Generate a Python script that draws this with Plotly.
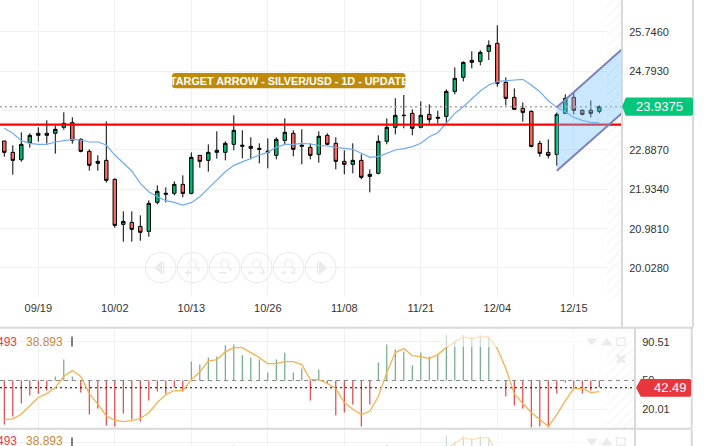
import plotly.graph_objects as go

W, H = 711, 446

date_ticks = [4, 13, 22, 31, 40, 49, 58, 67]
date_labels = ["09/19", "10/02", "10/13", "10/26", "11/08", "11/21", "12/04", "12/15"]
price_ticks = [25.746, 24.793, 23.84, 22.887, 21.934, 20.981, 20.028]
price_labels = ["25.7460", "24.7930", "", "22.8870", "21.9340", "20.9810", "20.0280"]
last_price = 23.9375
support_level = 23.5
rsi_last = 42.49
rsi_mid = 50

candle_x = list(range(71))
opens = [23.105, 22.83, 22.652, 23.064, 23.291, 23.291, 23.291, 23.436, 23.549, 23.145,
         22.854, 22.563, 22.636, 22.176, 21.085, 21.133, 21.036, 20.915, 21.618, 21.812,
         21.836, 22.054, 21.836, 22.757, 22.636, 22.83, 22.83, 23.024, 22.975, 22.975,
         22.927, 22.83, 22.757, 23.121, 23.291, 22.975, 22.951, 22.782, 23.242, 23.048,
         22.612, 22.539, 22.636, 22.248, 22.321, 23.097, 23.436, 23.719, 23.775, 23.436,
         23.75, 23.653, 23.701, 24.307, 24.647, 25.059, 25.035, 25.277, 25.471, 24.526,
         24.162, 23.895, 23.823, 23.047, 22.829, 22.78, 23.774, 24.162, 23.847, 23.847, 23.823]
highs = [23.105, 23.0, 23.315, 23.291, 23.436, 23.606, 23.476, 23.8, 23.678, 23.169,
         22.903, 22.757, 23.581, 22.2, 21.4, 21.4, 21.303, 21.667, 22.03, 21.982,
         22.127, 22.273, 22.83, 22.765, 23.024, 23.339, 23.097, 23.727, 23.363, 23.194,
         23.048, 23.169, 23.194, 23.654, 23.363, 23.388, 23.048, 23.339, 23.291, 23.194,
         22.879, 23.048, 22.782, 22.418, 23.242, 23.654, 24.139, 24.22, 23.872, 24.066,
         23.992, 23.839, 24.356, 24.889, 25.035, 25.277, 25.301, 25.544, 25.907, 24.647,
         24.38, 24.041, 23.847, 23.112, 23.144, 23.798, 24.235, 24.291, 23.871, 24.089, 23.968]
lows = [22.725, 22.289, 22.604, 22.943, 23.089, 23.04, 22.798, 23.379, 23.04, 22.83,
        22.386, 22.386, 22.095, 21.004, 20.665, 20.665, 20.689, 20.786, 21.57, 21.618,
        21.788, 21.739, 21.812, 22.458, 22.361, 22.677, 22.636, 22.879, 22.685, 22.66,
        22.563, 22.442, 22.66, 23.024, 22.733, 22.539, 22.66, 22.58, 23.0, 22.418,
        22.297, 22.321, 22.176, 21.86, 22.297, 23.024, 23.266, 23.412, 23.242, 23.412,
        23.532, 23.532, 23.532, 24.235, 24.55, 24.865, 24.938, 25.067, 24.421, 23.968,
        23.871, 23.572, 22.95, 22.724, 22.683, 22.506, 23.774, 23.75, 23.726, 23.677, 23.774]
closes = [22.83, 22.636, 23.024, 23.242, 23.242, 23.242, 23.388, 23.533, 23.121, 22.854,
          22.515, 22.612, 22.151, 21.061, 21.157, 20.964, 20.891, 21.594, 21.885, 21.836,
          22.054, 21.836, 22.709, 22.612, 22.83, 22.879, 23.048, 23.363, 23.0, 22.927,
          22.903, 22.854, 23.145, 23.315, 22.903, 23.0, 22.757, 23.218, 23.024, 22.612,
          22.539, 22.636, 22.224, 22.297, 23.097, 23.436, 23.727, 23.727, 23.412, 23.727,
          23.621, 23.677, 24.307, 24.623, 25.01, 25.01, 25.253, 25.423, 24.501, 24.138,
          23.871, 23.798, 22.974, 22.805, 22.756, 23.75, 24.138, 23.847, 23.75, 23.774, 23.9375]
ma_line = [23.412, 23.291, 23.113, 23.048, 23.024, 23.024, 23.081, 23.121, 23.145, 23.129,
           23.081, 23.081, 23.008, 22.765, 22.563, 22.378, 22.079, 21.877, 21.755, 21.658,
           21.618, 21.553, 21.61, 21.755, 21.957, 22.159, 22.361, 22.515, 22.604, 22.685,
           22.765, 22.83, 22.951, 23.024, 23.024, 23.048, 23.032, 22.992, 22.984, 22.951,
           22.927, 22.903, 22.806, 22.709, 22.725, 22.806, 22.887, 22.919, 22.967, 23.048,
           23.209, 23.306, 23.532, 23.774, 23.936, 24.138, 24.316, 24.461, 24.542, 24.566,
           24.582, 24.598, 24.461, 24.299, 24.081, 23.92, 23.815, 23.677, 23.605, 23.556, 23.548]

rsi_bars = [4.1, 12.4, 26.0, 34.4, 36.1, 39.6, 54.2, 71.9, 54.2, 37.5,
            14.5, 20.8, 3.1, 2.0, 15.6, 9.3, 7.2, 29.1, 38.5, 36.4,
            42.7, 38.5, 69.8, 66.7, 74.0, 75.0, 86.9, 87.6, 76.4, 74.0,
            71.9, 58.3, 71.9, 79.2, 58.3, 62.5, 29.1, 61.5, 46.9, 13.5,
            16.6, 25.0, 2.0, 25.0, 68.8, 87.6, 82.3, 80.2, 65.6, 79.2,
            75.0, 77.1, 98.0, 91.7, 97.3, 95.5, 97.3, 95.5, 50.0, 33.3,
            23.9, 20.8, 1.0, 2.0, 1.0, 36.4, 47.9, 41.7, 36.4, 39.6, 42.7]
rsi_line = [9.3, 10.0, 14.9, 23.2, 32.3, 36.4, 42.7, 54.5, 60.4, 54.2,
            36.4, 25.7, 13.1, 8.6, 7.2, 8.3, 10.4, 16.3, 27.1, 35.4,
            39.6, 39.6, 51.0, 59.0, 70.2, 71.9, 79.9, 84.4, 84.4, 79.2,
            74.0, 67.7, 67.7, 69.8, 69.8, 66.7, 51.0, 51.0, 46.9, 41.7,
            27.1, 20.1, 14.5, 18.0, 33.3, 58.3, 79.2, 83.4, 76.1, 75.0,
            72.9, 77.1, 84.4, 90.3, 95.5, 93.8, 95.5, 95.5, 83.4, 62.5,
            36.4, 26.0, 16.6, 9.3, 2.0, 14.5, 29.1, 41.7, 41.7, 37.5, 38.5]

channel_x = [65, 72.67]
channel_upper = [23.921, 25.327]
channel_lower = [22.385, 23.776]

X_MAIN = [-0.506, 72.67]
X_RSI = [-0.506, 74.2]
Y_MAIN = [19.325, 26.521]
Y_RSI = [0.5, 103.8]
Y_RSI2 = [87.1, 103.8]

FONT = "Liberation Sans, Arial, sans-serif"
GRID = "#f1f1f1"
FRAME = "#d9d9d9"
ICON = "#ebebeb"


def px(x):
    return x / W


def py(y):
    return 1 - y / H


fig = go.Figure()

# hatched strip at the right end of the panels
fig.add_trace(go.Bar(x=[71.8], y=[Y_MAIN[1] - Y_MAIN[0]], base=[Y_MAIN[0]], width=[1.76],
                     marker=dict(color="white", line_width=0,
                                 pattern=dict(shape="/", fgcolor="#efefef", bgcolor="white", size=7, solidity=0.25)),
                     xaxis="x", yaxis="y", hoverinfo="skip"))
for ya, yr in (("y2", Y_RSI), ("y3", Y_RSI2)):
    xa = "x2" if ya == "y2" else "x3"
    fig.add_trace(go.Bar(x=[72.55], y=[yr[1] - yr[0]], base=[yr[0]], width=[3.29],
                         marker=dict(color="white", line_width=0,
                                     pattern=dict(shape="/", fgcolor="#efefef", bgcolor="white", size=7, solidity=0.25)),
                         xaxis=xa, yaxis=ya, hoverinfo="skip"))

fig.add_trace(go.Candlestick(
    x=candle_x, open=opens, high=highs, low=lows, close=closes, xaxis="x", yaxis="y",
    whiskerwidth=0,
    increasing=dict(fillcolor="#02b871", line=dict(color="#000000", width=1)),
    decreasing=dict(fillcolor="#fa6a61", line=dict(color="#000000", width=1)),
))
fig.add_trace(go.Scatter(x=candle_x, y=ma_line, mode="lines", xaxis="x", yaxis="y",
                         line=dict(color="#6fabf6", width=1.2)))
fig.add_trace(go.Scatter(x=X_MAIN, y=[last_price, last_price], mode="lines", xaxis="x", yaxis="y",
                         line=dict(color="#a8a8a8", width=1.5, dash="2px,3px")))
fig.add_trace(go.Scatter(x=X_MAIN, y=[support_level, support_level], mode="lines", xaxis="x", yaxis="y",
                         line=dict(color="#ff0000", width=2.2)))
fig.add_trace(go.Scatter(x=channel_x + channel_x[::-1], y=channel_upper + channel_lower[::-1],
                         mode="none", fill="toself", fillcolor="rgba(120,195,250,0.4)",
                         xaxis="x", yaxis="y"))
for edge in (channel_upper, channel_lower):
    fig.add_trace(go.Scatter(x=channel_x, y=edge, mode="lines", xaxis="x", yaxis="y",
                             line=dict(color="#7c80ba", width=2)))

bar_colors = ["rgba(93,158,118,0.99)" if v >= rsi_mid else "rgba(232,38,45,0.99)" for v in rsi_bars]
for xa, ya in (("x2", "y2"), ("x3", "y3")):
    fig.add_trace(go.Bar(x=candle_x, y=[v - rsi_mid for v in rsi_bars], base=rsi_mid, width=0.125,
                         marker=dict(color=bar_colors, line_width=0), xaxis=xa, yaxis=ya))
    fig.add_trace(go.Scatter(x=X_RSI, y=[rsi_mid, rsi_mid], mode="lines", xaxis=xa, yaxis=ya,
                             line=dict(color="#888888", width=1, dash="4px,4px")))
    fig.add_trace(go.Scatter(x=X_RSI, y=[rsi_last, rsi_last], mode="lines", xaxis=xa, yaxis=ya,
                             line=dict(color="#000000", width=1, dash="2px,3px")))
    fig.add_trace(go.Scatter(x=candle_x, y=rsi_line, mode="lines", xaxis=xa, yaxis=ya,
                             line=dict(color="#f6b24e", width=1.3)))

shapes = []


def line(x0, y0, x1, y1, color=FRAME, width=2):
    shapes.append(dict(type="line", xref="paper", yref="paper", layer="above",
                       x0=px(x0), y0=py(y0), x1=px(x1), y1=py(y1),
                       line=dict(color=color, width=width)))


def poly(points, fill=ICON, close=True):
    d = "M " + " L ".join(f"{px(a):.5f},{py(b):.5f}" for a, b in points) + (" Z" if close else "")
    shapes.append(dict(type="path", xref="paper", yref="paper", layer="above", path=d,
                       fillcolor=fill if close else None, line=dict(color=fill, width=1 if close else 1.3)))


def circle(cx, cy, r, color=ICON, width=1.1):
    shapes.append(dict(type="circle", xref="paper", yref="paper", layer="above",
                       x0=px(cx - r), x1=px(cx + r), y0=py(cy + r), y1=py(cy - r),
                       line=dict(color=color, width=width)))


# white veil over the top of the indicator panels, where the controls sit
for y0, y1 in ((330, 347), (430, 446)):
    shapes.append(dict(type="rect", xref="paper", yref="paper", layer="above",
                       x0=px(445), x1=px(634), y0=py(y1), y1=py(y0),
                       fillcolor="rgba(255,255,255,0.6)", line_width=0))

# frames
line(0, 327.7, 693, 327.7)
line(622, 0, 622, 327)
line(693, 0, 693, 327)
line(0, 428.7, 692, 428.7)
line(635, 328, 635, 446)
line(691.7, 328, 691.7, 428)
line(691.7, 430, 691.7, 446)
line(72, 336.5, 72, 346.5, "#000000", 1)
line(72, 437.5, 72, 446, "#000000", 1)

# navigation buttons under the main chart
centres = [160.7, 192.7, 224.7, 256.7, 288.7, 320.7]
cy = 267.7
for c in centres:
    circle(c, cy, 15.2)
c = centres[0]
poly([(c - 6, cy), (c + 1, cy - 6), (c + 1, cy + 6)])
line(c + 3, cy - 6, c + 3, cy + 6, ICON, 1.5)
c = centres[5]
poly([(c + 6, cy), (c - 1, cy - 6), (c - 1, cy + 6)])
line(c - 3, cy - 6, c - 3, cy + 6, ICON, 1.5)
for c in centres[1:5]:
    circle(c, cy - 4, 4)
    line(c + 3, cy - 1, c + 7, cy + 3, ICON, 1.6)
c = centres[1]
line(c - 8, cy + 5, c - 1, cy + 5, ICON, 1.5)
line(c - 4.5, cy + 1.5, c - 4.5, cy + 8.5, ICON, 1.5)
c = centres[2]
line(c - 6, cy + 5, c + 2, cy + 5, ICON, 1.5)
for c, arrows in ((centres[3], ((-8, -3, -8), (3, 8, 8))), (centres[4], ((-8, -3, -3), (3, 8, 3)))):
    for a, b, tip in arrows:
        line(c + a, cy + 5, c + b, cy + 5, ICON, 1.2)
        side = 2 if tip == a else -2
        line(c + tip, cy + 5, c + tip + side, cy + 3, ICON, 1.2)
        line(c + tip, cy + 5, c + tip + side, cy + 7, ICON, 1.2)

# indicator panel controls
for oy in (0, 100):
    poly([(587, 339 + oy), (597, 339 + oy), (592, 345 + oy)])
    poly([(602, 345 + oy), (607, 338.5 + oy), (612, 345 + oy)])
    poly([(616.5, 338 + oy), (625, 338 + oy), (625, 345.5 + oy), (616.5, 345.5 + oy)], ICON, False)
    poly([(616.5, 345.5 + oy), (616.5, 338 + oy)], ICON, False)
line(617, 355, 625, 363, ICON, 2.8)
line(625, 355, 617, 363, ICON, 2.8)


def rounded(x0, y0, x1, y1, r, color, tip=None):
    pts = f"M {px(x0 + r):.5f},{py(y0):.5f} L {px(x1 - r):.5f},{py(y0):.5f} "
    pts += f"Q {px(x1):.5f},{py(y0):.5f} {px(x1):.5f},{py(y0 + r):.5f} L {px(x1):.5f},{py(y1 - r):.5f} "
    pts += f"Q {px(x1):.5f},{py(y1):.5f} {px(x1 - r):.5f},{py(y1):.5f} L {px(x0 + r):.5f},{py(y1):.5f} "
    pts += f"Q {px(x0):.5f},{py(y1):.5f} {px(x0):.5f},{py(y1 - r):.5f} "
    if tip:
        pts += f"L {px(tip):.5f},{py((y0 + y1) / 2):.5f} "
    pts += f"L {px(x0):.5f},{py(y0 + r):.5f} Q {px(x0):.5f},{py(y0):.5f} {px(x0 + r):.5f},{py(y0):.5f} Z"
    shapes.append(dict(type="path", xref="paper", yref="paper", layer="above", path=pts,
                       fillcolor=color, line_width=0))


rounded(172, 73, 405.5, 88.3, 3.5, "#bf8a08")
rounded(625, 97.5, 693, 115.7, 2, "#05c77c", tip=622)
rounded(640, 379, 691, 396.7, 1.5, "#e8363c", tip=636)

annotations = []


def note(text, x, y, color, size, anchor="left", bold=False):
    t = f"<b>{text}</b>" if bold else text
    annotations.append(dict(text=t, x=px(x), y=py(y), xref="paper", yref="paper", showarrow=False,
                            xanchor=anchor, yanchor="middle", borderpad=0,
                            font=dict(family=FONT, size=size, color=color)))


note("TARGET ARROW - SILVER/USD - 1D - UPDATE", 288.7, 80.6, "#ffffff", 10.8, "center", True)
note(f"{last_price:.4f}", 659, 106.5, "#ffffff", 13, "center")
note(f"{rsi_last:.2f}", 687.5, 387.5, "#ffffff", 13, "right")
for y in (341.5, 440.5):
    note("493", 17.5, y, "#ea3a3f", 12, "right")
    note("38.893", 25, y, "#c98a3c", 12)

axis_font = dict(family=FONT, size=11, color="#333333")
hidden_x = dict(tickmode="array", tickvals=date_ticks, ticktext=[""] * len(date_ticks), showticklabels=False,
                showgrid=True, gridcolor=GRID, gridwidth=1, zeroline=False, ticks="")

fig.update_layout(
    width=W, height=H, autosize=False, showlegend=False, barmode="overlay",
    margin=dict(l=0, r=0, t=0, b=0, pad=0),
    paper_bgcolor="white", plot_bgcolor="white", boxgap=0.42,
    shapes=shapes, annotations=annotations,
    xaxis=dict(domain=[0, 622 / W], range=X_MAIN, anchor="y", tickmode="array", tickvals=date_ticks,
               ticktext=date_labels, tickfont=axis_font, showgrid=True, gridcolor=GRID, zeroline=False,
               ticks="", ticklabelstandoff=3, rangeslider=dict(visible=False)),
    yaxis=dict(domain=[py(297), 1], range=Y_MAIN, anchor="x", side="right", tickmode="array",
               tickvals=price_ticks, ticktext=price_labels, tickfont=axis_font,
               showgrid=True, gridcolor=GRID, zeroline=False, ticks="outside", ticklen=4,
               tickcolor="rgba(0,0,0,0)"),
    xaxis2=dict(domain=[0, 635 / W], range=X_RSI, anchor="y2", **hidden_x),
    yaxis2=dict(domain=[py(428), py(329)], range=Y_RSI, anchor="x2", side="right", tickmode="array",
                tickvals=[20.01, rsi_mid, 90.51], ticktext=["20.01", "50", "90.51"], tickfont=axis_font,
                showgrid=True, gridcolor=GRID, zeroline=False, ticks="outside", ticklen=4,
                tickcolor="rgba(0,0,0,0)"),
    xaxis3=dict(domain=[0, 635 / W], range=X_RSI, anchor="y3", **hidden_x),
    yaxis3=dict(domain=[0, py(430)], range=Y_RSI2, anchor="x3", side="right", tickmode="array",
                tickvals=[90.51], ticktext=["90.51"], tickfont=axis_font,
                showgrid=True, gridcolor=GRID, zeroline=False, ticks="outside", ticklen=4,
                tickcolor="rgba(0,0,0,0)"),
)

fig.write_html("out.html", config={"displayModeBar": False},
               post_script="document.body.style.margin='0';document.documentElement.style.overflow='hidden';")
